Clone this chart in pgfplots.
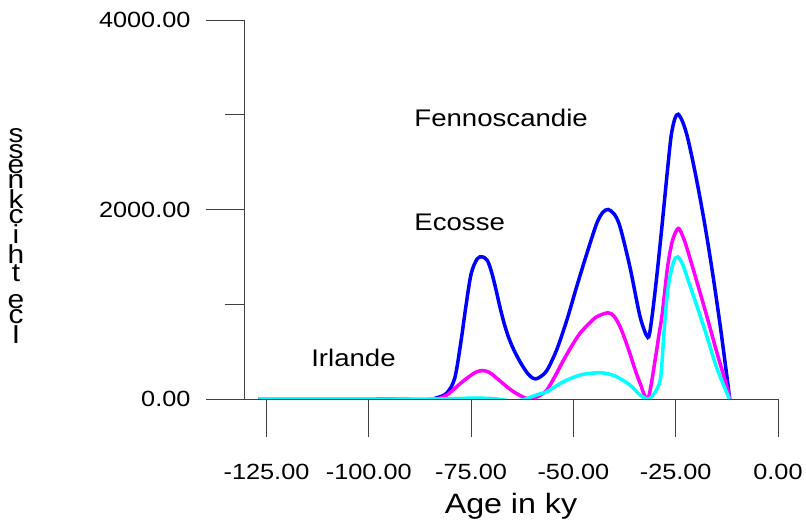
\documentclass[border=0pt]{standalone}
\usepackage{pgfplots}
\pgfplotsset{compat=1.18}
\usepackage{fontspec}
\setmainfont[FakeStretch=1.15]{Liberation Sans}

\definecolor{fenno}{RGB}{0,0,255}
\definecolor{ecosse}{RGB}{255,0,255}
\definecolor{irlande}{RGB}{0,255,255}

\begin{document}
\begin{tikzpicture}
% page frame, 806 x 524 with the axis box at its origin
\path[use as bounding box] (-244pt,-125pt) rectangle (562pt,399pt);
\begin{axis}[
    scale only axis,
    width=534pt, height=379pt,
    xmin=-130.5, xmax=0,
    ymin=0, ymax=4000,
    axis x line*=bottom, axis y line*=left,
    axis line style={-, line width=0.8pt, black!75},
    tick align=outside,
    major tick length=38pt, minor tick length=19pt,
    tick style={line width=0.8pt, black!75},
    xtick={-125,-100,-75,-50,-25,0},
    ytick={0,2000,4000}, minor ytick={1000,3000},
    scaled ticks=false,
    /pgf/number format/fixed,
    /pgf/number format/fixed zerofill,
    /pgf/number format/precision=2,
    /pgf/number format/1000 sep={},
    /pgf/number format/assume math mode=true,
    tick label style={font=\fontsize{22}{26}\selectfont},
    xticklabel style={yshift=-24pt},
    yticklabel style={xshift=-12pt},
    xlabel={Age in ky},
    xlabel style={font=\fontsize{28}{32}\selectfont,
        at={(axis description cs:0.5,-0.282)}, anchor=center},
    ylabel={s\\s\\e\\n\\k\\c\\i\\h\\t\\~\\e\\c\\I},
    ylabel style={rotate=-90, align=center,
        font=\fontsize{26}{12.6}\selectfont,
        at={(axis description cs:-0.427,0.43)}, anchor=center},
    every axis plot/.append style={line width=3.5pt, smooth, tension=0.5},
]
% Fennoscandie
\addplot[fenno] coordinates {
(-127,0) (-115,0) (-100,0) (-90,-5) (-87,-12) (-84,5) (-81,60) (-79,220)
(-77.5,600) (-76.3,970) (-75,1320) (-73.5,1480) (-72.2,1500) (-71,1460)
(-70,1340) (-69,1170) (-68,980) (-67,810) (-66,670) (-65,560) (-64,470)
(-63,390) (-62,320) (-61,260) (-60,222) (-59.3,212) (-58.3,228)
(-56.5,300) (-54.1,517) (-51.6,833) (-49.2,1185) (-46.7,1537)
(-44.3,1853) (-42.8,1970) (-41.5,2000) (-40,1950) (-38.6,1817) (-36.2,1396)
(-33.7,868) (-31.8,650) (-31,800) (-30,1150) (-29,1550) (-28,1980)
(-27,2420) (-26.1,2780) (-25.2,2960) (-24.4,3005) (-23.3,2925) (-22.1,2760)
(-20.5,2444) (-18.9,2087) (-17.3,1689) (-15.6,1219) (-14,735) (-12.4,208)
(-11.8,0)
};
% Ecosse
\addplot[ecosse] coordinates {
(-127,0) (-100,0) (-90,-10) (-86.5,-30) (-84,-10) (-81,40) (-78,150)
(-76.3,210) (-74,280) (-72.3,300) (-70.5,280) (-68.2,200) (-66,120)
(-64,60) (-62,15) (-60.4,0) (-58.5,30) (-56.5,95) (-54.5,240) (-52.4,411)
(-50.4,560) (-48.4,693) (-46.3,790) (-44.3,868) (-41.5,910) (-40,870)
(-38.6,763) (-37.4,630) (-36.2,482) (-35,320) (-33.7,166) (-31.8,0)
(-30,420) (-29.2,650) (-28.3,896) (-27,1388) (-25.8,1670) (-24.4,1800)
(-23.2,1710) (-22.1,1570) (-19.7,1220) (-17.3,860) (-15,500) (-12.4,115)
(-11.8,0)
};
% Irlande
\addplot[irlande] coordinates {
(-127,0) (-100,0) (-85,0) (-78,5) (-74.7,10) (-70,5) (-67,-10)
(-64.5,-25) (-62,-5) (-60.5,20) (-58.5,50) (-56.5,77) (-52.4,183)
(-48.4,253) (-45.5,272) (-43.5,278) (-41.5,265) (-39.4,235) (-36.2,148)
(-33.7,42) (-31.8,0) (-30.2,60) (-28.7,220) (-27.9,682) (-27.2,1040)
(-26.6,1248) (-25.5,1450) (-24.5,1500) (-23.3,1420) (-22.1,1270)
(-19.7,967) (-17.3,650) (-15,333) (-12.4,53) (-11.8,0)
};
\node[anchor=west, inner sep=0pt, font=\fontsize{24}{28}\selectfont]
    at (axis cs:-88.9,2966) {Fennoscandie};
\node[anchor=west, inner sep=0pt, font=\fontsize{24}{28}\selectfont]
    at (axis cs:-88.9,1868) {Ecosse};
\node[anchor=west, inner sep=0pt, font=\fontsize{24}{28}\selectfont]
    at (axis cs:-114.1,433) {Irlande};
\end{axis}
\end{tikzpicture}
\end{document}
